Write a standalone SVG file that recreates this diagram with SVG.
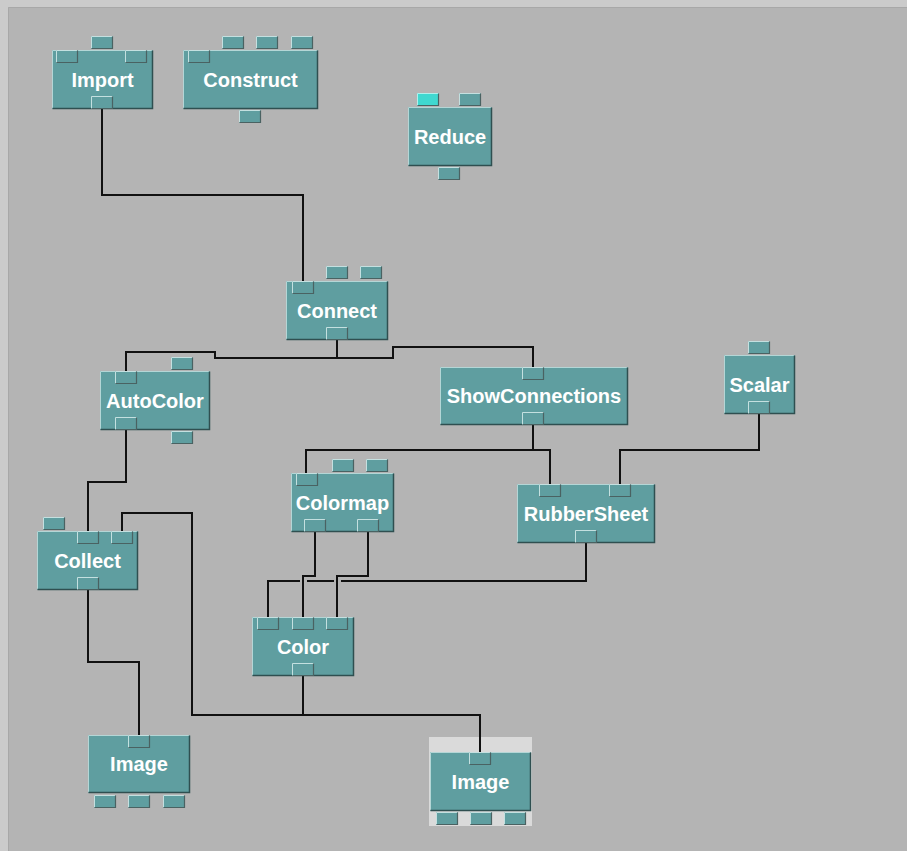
<svg xmlns="http://www.w3.org/2000/svg" xmlns:xlink="http://www.w3.org/1999/xlink" width="907" height="851" viewBox="0 0 907 851">
<style>
.box{fill:#5f9ea0}
.hl{fill:none;stroke:#b4d6d6;stroke-width:1}
.sh{fill:none;stroke:#2f4f50;stroke-width:1.5}
.lbl{font-family:"Liberation Sans",Arial,sans-serif;font-weight:bold;font-size:20px;fill:#ffffff;text-anchor:middle}
.wire{fill:none;stroke:#111111;stroke-width:2}
</style>
<defs>
<g id="tab">
<rect width="22" height="13" fill="#5f9ea0"/>
<path d="M0.5,12.5V0.5H21.5" fill="none" stroke="#c4e0e0" stroke-width="1"/>
<path d="M21.5,0.5V12.5H0.5" fill="none" stroke="#4a6262" stroke-width="1.2"/>
</g>
<g id="tabc">
<rect width="22" height="13" fill="#40d8d0"/>
<path d="M0.5,12.5V0.5H21.5" fill="none" stroke="#b0f0ec" stroke-width="1"/>
<path d="M21.5,0.5V12.5H0.5" fill="none" stroke="#4a6262" stroke-width="1.2"/>
</g>
</defs>
<rect width="907" height="851" fill="#cbcbcb"/>
<rect x="8" y="7" width="899" height="844" fill="#b4b4b4"/>
<path d="M8.5,851V7.5H907" fill="none" stroke="#a8a8a8" stroke-width="1"/>

<g id="image2">
<rect x="429" y="737" width="103" height="89" fill="#dadada"/>
<rect class="box" x="430" y="752" width="101" height="59"/>
<path class="hl" d="M430.5,810.5V752.5H530.5"/><path class="sh" d="M530.5,752.5V810.5H430.5"/>
<use xlink:href="#tab" x="469" y="752"/>
<use xlink:href="#tab" x="436" y="812"/><use xlink:href="#tab" x="470" y="812"/><use xlink:href="#tab" x="504" y="812"/>
<text class="lbl" x="480.5" y="789">Image</text>
</g>

<g id="connectors">
<path class="wire" d="M102,109V195H303V281"/>
<path class="wire" d="M337,340V358H215V352H126V371"/>
<path class="wire" d="M337,358H393V347H533V367"/>
<path class="wire" d="M533,425V450H306V473"/>
<path class="wire" d="M533,450H550V484"/>
<path class="wire" d="M759,414V450H620V484"/>
<path class="wire" d="M126,430V482H88V531"/>
<path class="wire" d="M303,676V715H192V513H122V531"/>
<path class="wire" d="M303,715H480V752"/>
<path class="wire" d="M88,590V662H139V735"/>
<path class="wire" d="M315,532V576H303V617"/>
<path class="wire" d="M368,532V576H337V617"/>
<path class="wire" d="M586,543V581H341M334,581H307M300,581H268V617"/>
</g>

<g id="import">
<rect class="box" x="52" y="50" width="101" height="59"/>
<path class="hl" d="M52.5,108.5V50.5H152.5"/><path class="sh" d="M152.5,50.5V108.5H52.5"/>
<use xlink:href="#tab" x="91" y="36"/>
<use xlink:href="#tab" x="56" y="50"/><use xlink:href="#tab" x="125" y="50"/>
<use xlink:href="#tab" x="91" y="96"/>
<text class="lbl" x="102.5" y="87">Import</text>
</g>

<g id="construct">
<rect class="box" x="183" y="50" width="135" height="59"/>
<path class="hl" d="M183.5,108.5V50.5H317.5"/><path class="sh" d="M317.5,50.5V108.5H183.5"/>
<use xlink:href="#tab" x="222" y="36"/><use xlink:href="#tab" x="256" y="36"/><use xlink:href="#tab" x="291" y="36"/>
<use xlink:href="#tab" x="188" y="50"/>
<use xlink:href="#tab" x="239" y="110"/>
<text class="lbl" x="250.5" y="87">Construct</text>
</g>

<g id="reduce">
<rect class="box" x="408" y="107" width="84" height="59"/>
<path class="hl" d="M408.5,165.5V107.5H491.5"/><path class="sh" d="M491.5,107.5V165.5H408.5"/>
<use xlink:href="#tabc" x="417" y="93"/><use xlink:href="#tab" x="459" y="93"/>
<use xlink:href="#tab" x="438" y="167"/>
<text class="lbl" x="450" y="144">Reduce</text>
</g>

<g id="connect">
<rect class="box" x="286" y="281" width="102" height="59"/>
<path class="hl" d="M286.5,339.5V281.5H387.5"/><path class="sh" d="M387.5,281.5V339.5H286.5"/>
<use xlink:href="#tab" x="326" y="266"/><use xlink:href="#tab" x="360" y="266"/>
<use xlink:href="#tab" x="292" y="281"/>
<use xlink:href="#tab" x="326" y="327"/>
<text class="lbl" x="337" y="318">Connect</text>
</g>

<g id="autocolor">
<rect class="box" x="100" y="371" width="110" height="59"/>
<path class="hl" d="M100.5,429.5V371.5H209.5"/><path class="sh" d="M209.5,371.5V429.5H100.5"/>
<use xlink:href="#tab" x="171" y="357"/>
<use xlink:href="#tab" x="115" y="371"/>
<use xlink:href="#tab" x="115" y="417"/>
<use xlink:href="#tab" x="171" y="431"/>
<text class="lbl" x="155" y="408">AutoColor</text>
</g>

<g id="showconnections">
<rect class="box" x="440" y="367" width="188" height="58"/>
<path class="hl" d="M440.5,424.5V367.5H627.5"/><path class="sh" d="M627.5,367.5V424.5H440.5"/>
<use xlink:href="#tab" x="522" y="367"/>
<use xlink:href="#tab" x="522" y="412"/>
<text class="lbl" x="534" y="403">ShowConnections</text>
</g>

<g id="scalar">
<rect class="box" x="724" y="355" width="71" height="59"/>
<path class="hl" d="M724.5,413.5V355.5H794.5"/><path class="sh" d="M794.5,355.5V413.5H724.5"/>
<use xlink:href="#tab" x="748" y="341"/>
<use xlink:href="#tab" x="748" y="401"/>
<text class="lbl" x="759.5" y="392">Scalar</text>
</g>

<g id="collect">
<rect class="box" x="37" y="531" width="101" height="59"/>
<path class="hl" d="M37.5,589.5V531.5H137.5"/><path class="sh" d="M137.5,531.5V589.5H37.5"/>
<use xlink:href="#tab" x="43" y="517"/>
<use xlink:href="#tab" x="77" y="531"/><use xlink:href="#tab" x="111" y="531"/>
<use xlink:href="#tab" x="77" y="577"/>
<text class="lbl" x="87.5" y="568">Collect</text>
</g>

<g id="colormap">
<rect class="box" x="291" y="473" width="103" height="59"/>
<path class="hl" d="M291.5,531.5V473.5H393.5"/><path class="sh" d="M393.5,473.5V531.5H291.5"/>
<use xlink:href="#tab" x="332" y="459"/><use xlink:href="#tab" x="366" y="459"/>
<use xlink:href="#tab" x="296" y="473"/>
<use xlink:href="#tab" x="304" y="519"/><use xlink:href="#tab" x="357" y="519"/>
<text class="lbl" x="342.5" y="510">Colormap</text>
</g>

<g id="rubbersheet">
<rect class="box" x="517" y="484" width="138" height="59"/>
<path class="hl" d="M517.5,542.5V484.5H654.5"/><path class="sh" d="M654.5,484.5V542.5H517.5"/>
<use xlink:href="#tab" x="539" y="484"/><use xlink:href="#tab" x="609" y="484"/>
<use xlink:href="#tab" x="575" y="530"/>
<text class="lbl" x="586" y="521">RubberSheet</text>
</g>

<g id="color">
<rect class="box" x="252" y="617" width="102" height="59"/>
<path class="hl" d="M252.5,675.5V617.5H353.5"/><path class="sh" d="M353.5,617.5V675.5H252.5"/>
<use xlink:href="#tab" x="257" y="617"/><use xlink:href="#tab" x="292" y="617"/><use xlink:href="#tab" x="326" y="617"/>
<use xlink:href="#tab" x="292" y="663"/>
<text class="lbl" x="303" y="654">Color</text>
</g>

<g id="image1">
<rect class="box" x="88" y="735" width="102" height="58"/>
<path class="hl" d="M88.5,792.5V735.5H189.5"/><path class="sh" d="M189.5,735.5V792.5H88.5"/>
<use xlink:href="#tab" x="128" y="735"/>
<use xlink:href="#tab" x="94" y="795"/><use xlink:href="#tab" x="128" y="795"/><use xlink:href="#tab" x="163" y="795"/>
<text class="lbl" x="139" y="771">Image</text>
</g>
</svg>
